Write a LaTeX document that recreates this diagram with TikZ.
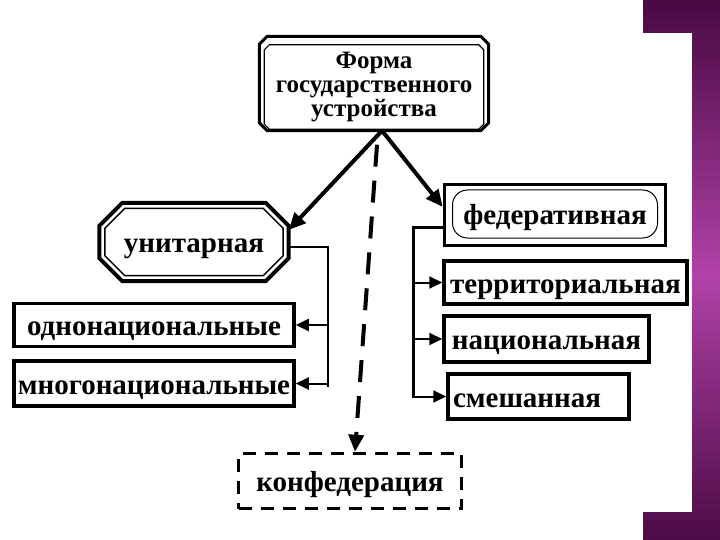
\documentclass[tikz,border=0pt]{standalone}
\usepackage{fontspec}
\setmainfont{Liberation Serif}
\usetikzlibrary{arrows.meta}

\definecolor{plumdark}{HTML}{4A0A44}
\definecolor{plumlight}{HTML}{B042A8}

\tikzset{
  every node/.style={inner sep=0pt, text height=21pt, text depth=0pt,
    font=\bfseries\fontsize{29}{32}\selectfont},
  box/.style={draw, line width=3.5pt},
  link/.style={line width=2pt, -{Triangle[length=13pt,width=12pt]}},
  biglink/.style={line width=4pt, -{Triangle[length=17pt,width=15pt]}}
}

% octagon drawn round a node: node, cut, line width
\newcommand\cutframe[3]{%
  \draw[line width=#3] ([xshift=#2]#1.north west) -- ([xshift=-#2]#1.north east)
    -- ([yshift=-#2]#1.north east) -- ([yshift=#2]#1.south east)
    -- ([xshift=-#2]#1.south east) -- ([xshift=#2]#1.south west)
    -- ([yshift=#2]#1.south west) -- ([yshift=-#2]#1.north west) -- cycle;}

\begin{document}
\begin{tikzpicture}[x=1pt,y=-1pt]
\useasboundingbox (0,0) rectangle (720,540);
% frame on the right
\foreach \i in {0,...,53} {
  \pgfmathsetmacro\m{100-100*abs(\i-27)/27}
  \fill[plumlight!\m!plumdark] (643,\i*10) rectangle (720,\i*10+10.5);
}
\fill[white] (0,33) rectangle (692,512);

% form of government
\node[minimum width=229pt, minimum height=94pt] (topO) at (374,83.5) {};
\node[minimum width=219pt, minimum height=84pt, align=center, text height=, text depth=,
      font=\bfseries\fontsize{25}{24}\selectfont] (top) at (374,87) {Форма\\государственного\\устройства};
\cutframe{topO}{8pt}{3pt}
\cutframe{top}{5pt}{1.2pt}

% unitary branch
\node[minimum width=189pt, minimum height=78pt] (unitO) at (194,242) {};
\node[minimum width=178pt, minimum height=67pt] (unit) at (194,242) {унитарная};
\cutframe{unitO}{23pt}{4pt}
\cutframe{unit}{20pt}{1.5pt}
\node[box, minimum width=280pt, minimum height=43pt] (odno) at (154,325) {однонациональные};
\node[box, minimum width=280pt, minimum height=45pt] (mnogo) at (154,383.5) {многонациональные};

% federal branch
\node[box, minimum width=221pt, minimum height=61pt] (fedO) at (555,215) {};
\node[draw, line width=1pt, rounded corners=15pt, minimum width=205pt, minimum height=48pt] (fed) at (555,214) {федеративная};
\node[box, minimum width=243pt, minimum height=43pt] (terr) at (565.5,282.5) {территориальная};
\node[box, minimum width=205pt, minimum height=46pt] (nac) at (546.5,339) {национальная};
\node[box, inner xsep=5pt, text width=171pt, align=left, minimum height=45pt] (smesh) at (538.5,396.5) {смешанная};

% confederation
\node[box, dash pattern=on 13pt off 9pt, minimum width=223pt, minimum height=55pt] (konf) at (350,481) {конфедерация};

\draw[biglink] ([xshift=8pt]topO.south) -- ([yshift=12pt]unitO.east);
\draw[biglink] ([xshift=8pt]topO.south) -- ([yshift=8pt]fedO.west);
\draw[line width=4pt, dash pattern=on 22pt off 14pt, dash phase=22pt, -{Triangle[length=17pt,width=15pt]}] ([xshift=4pt]topO.south) -- ([xshift=5pt]konf.north);

\coordinate (lb) at (328,387);
\draw[line width=2pt] ([yshift=-5pt]unitO.east) -| (lb);
\draw[link] (lb |- odno.east) -- (odno.east);
\draw[link] (lb |- mnogo.east) -- (mnogo.east);

\coordinate (rb) at (413,398);
\draw[line width=3pt] ([yshift=-13pt]fedO.west) -| (rb);
\draw[link] (rb |- terr.west) -- (terr.west);
\draw[link] (rb |- nac.west) -- (nac.west);
\draw[link] (rb |- smesh.west) -- (smesh.west);
\end{tikzpicture}
\end{document}
